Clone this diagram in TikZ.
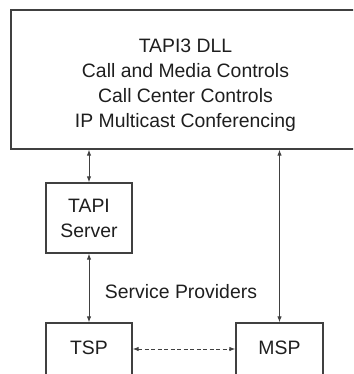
\documentclass[tikz,border=0pt]{standalone}
\usepackage{fontspec}
\setmainfont{Liberation Sans}
\usetikzlibrary{arrows.meta}
\definecolor{linea}{HTML}{404040}
\definecolor{texto}{HTML}{1E1E1E}

\begin{document}
\begin{tikzpicture}[
  x=1pt, y=-1pt,
  marco/.style={draw=linea, line width=1.3pt, align=center, inner sep=0pt,
                text=texto, font=\fontsize{19.4}{25}\selectfont},
  flecha/.style={{Latex[length=6pt,width=4.5pt]}-{Latex[length=6pt,width=4.5pt]},
                 draw=linea, line width=1pt}
]
  \clip (0,0) rectangle (353,374);
  \node[marco, minimum width=349pt, minimum height=139pt] (dll) at (185.5,79.5)
    {\rule{0pt}{26pt}TAPI3 DLL\\Call and Media Controls\\Call Center Controls\\IP Multicast Conferencing};
  \node[marco, minimum width=86pt, minimum height=70pt] (srv) at (89,218) {TAPI\\Server};
  \node[marco, minimum width=86pt, minimum height=62pt, text height=14pt, text depth=14pt] (tsp) at (89,354) {TSP};
  \node[marco, minimum width=87pt, minimum height=62pt, text height=14pt, text depth=14pt] (msp) at (279.5,354) {MSP};
  \node[text=texto, font=\fontsize{19.4}{25}\selectfont] (prov) at (181,292) {Service Providers};
  \draw[flecha] (srv.north) -- (srv.north |- dll.south);
  \draw[flecha] (srv.south) -- (tsp.north);
  \draw[flecha] (msp.north) -- (msp.north |- dll.south);
  \draw[flecha, dashed, dash pattern=on 4pt off 2.5pt] ([yshift=5pt]tsp.east) -- ([yshift=5pt]msp.west);
\end{tikzpicture}
\end{document}
